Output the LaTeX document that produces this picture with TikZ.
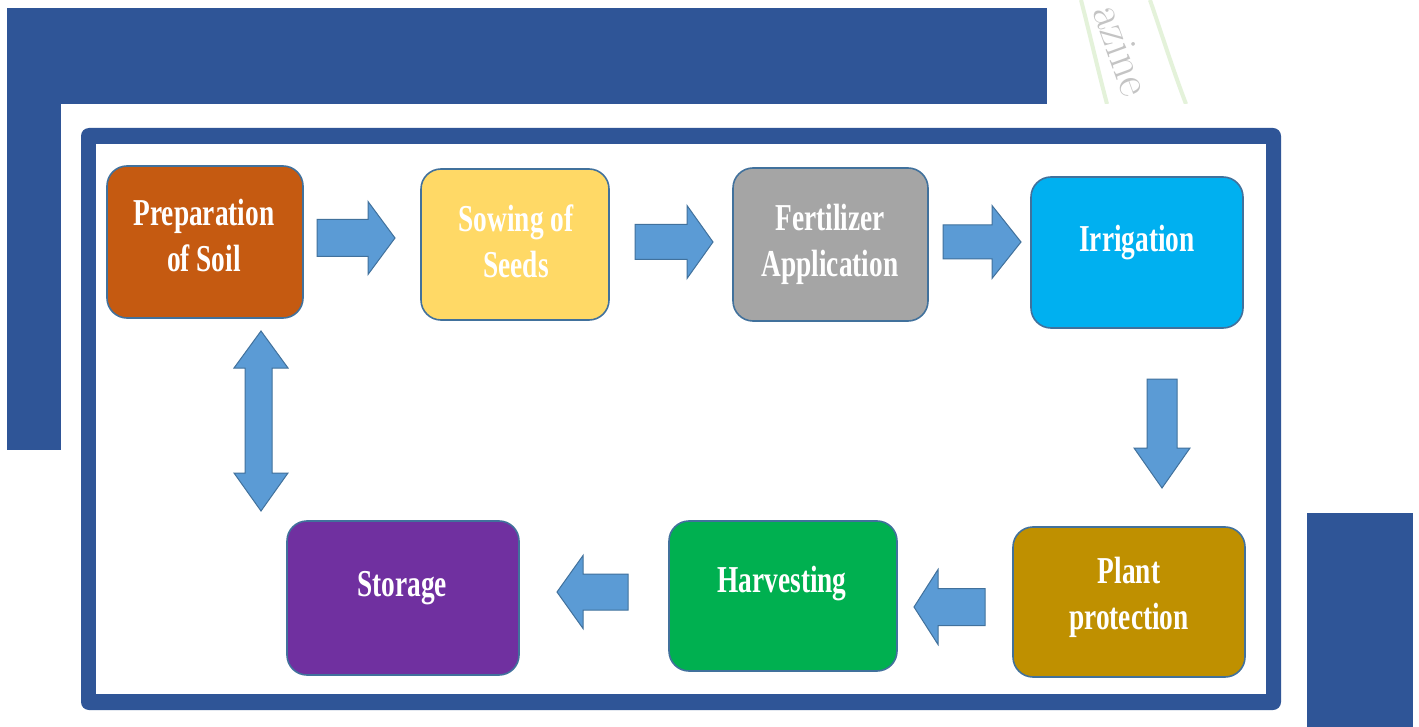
\documentclass[tikz,border=0pt]{standalone}
\usepackage{fontspec}
\newfontfamily\labelfont{Liberation Serif}[FakeStretch=0.72]

\definecolor{frameblue}{HTML}{2F5597}
\definecolor{boxedge}{HTML}{41719C}
\definecolor{arrowfill}{HTML}{5B9BD5}
\definecolor{arrowedge}{HTML}{41719C}
\definecolor{prepfill}{HTML}{C55A11}
\definecolor{sowfill}{HTML}{FFD966}
\definecolor{fertfill}{HTML}{A5A5A5}
\definecolor{irrfill}{HTML}{00B0F0}
\definecolor{plantfill}{HTML}{BF9000}
\definecolor{harvfill}{HTML}{00B050}
\definecolor{storfill}{HTML}{7030A0}
\definecolor{sealgreen}{HTML}{E4F2DA}
\definecolor{sealgray}{HTML}{C4C4C4}

% block arrow: shaft end, head base, tip, centre line, shaft half width, head half width
\newcommand\blockhoriz[6]{%
  \draw[blockarrow] (#1,{#4-#5}) -- (#2,{#4-#5}) -- (#2,{#4-#6}) -- (#3,#4)
    -- (#2,{#4+#6}) -- (#2,{#4+#5}) -- (#1,{#4+#5}) -- cycle;}
\newcommand\blockvert[6]{%
  \draw[blockarrow] ({#4-#5},#1) -- ({#4-#5},#2) -- ({#4-#6},#2) -- (#4,#3)
    -- ({#4+#6},#2) -- ({#4+#5},#2) -- ({#4+#5},#1) -- cycle;}

\begin{document}
\begin{tikzpicture}[x=1pt,y=-1pt,
  stage/.style={draw=boxedge, line width=1.6pt, rounded corners=20pt, inner sep=0pt},
  stagetext/.style={text=white, align=center, inner sep=0pt,
    font={\labelfont\bfseries\fontsize{38pt}{46pt}\selectfont}},
  blockarrow/.style={fill=arrowfill, draw=arrowedge, line width=1pt, line join=miter}]

\useasboundingbox (0,0) rectangle (1419,727);
\fill[white] (0,0) rectangle (1419,727);

% page watermark seal, seen above the figure
\begin{scope}
  \clip (1047,0) rectangle (1419,104);
  \draw[sealgreen, line width=4pt] (1081,0) .. controls (1090,35) and (1098,70) .. (1107,104);
  \draw[sealgreen, line width=4pt] (1150,0) .. controls (1162,35) and (1173,70) .. (1186,104);
  \node[rotate=-70, text=sealgray, inner sep=0pt, font=\fontsize{46pt}{46pt}\selectfont] (seal) at (1122,50) {azine};
\end{scope}

% background blue panels
\fill[frameblue] (7,8) rectangle (1047,104);
\fill[frameblue] (7,104) rectangle (61,450);
\fill[white] (61,104) rectangle (1300,127);
\fill[frameblue] (1307,513) rectangle (1413,727);

% framed panel
\fill[frameblue, rounded corners=8pt] (81,128) rectangle (1281,710);
\fill[white] (96,144) rectangle (1266,694);

% stages
\node[stage, fill=prepfill,  minimum width=196pt, minimum height=152pt] (prep)  at (205,242) {};
\node[stage, fill=sowfill,   minimum width=188pt, minimum height=151pt] (sow)   at (515,244.5) {};
\node[stage, fill=fertfill,  minimum width=195pt, minimum height=153pt] (fert)  at (830.5,244.5) {};
\node[stage, fill=irrfill,   minimum width=212pt, minimum height=151pt] (irr)   at (1137,252.5) {};
\node[stage, fill=plantfill, minimum width=232pt, minimum height=150pt] (plant) at (1129,602) {};
\node[stage, fill=harvfill,  minimum width=228pt, minimum height=150pt] (harv)  at (783,596) {};
\node[stage, fill=storfill,  minimum width=232pt, minimum height=154pt] (stor)  at (403,598) {};

% stage labels
\node[stagetext] (prep-t)  at (204,236)  {Preparation\\of Soil};
\node[stagetext] (sow-t)   at (516,241)  {Sowing of\\Seeds};
\node[stagetext] (fert-t)  at (830,244)  {Fertilizer\\Application};
\node[stagetext] (irr-t)   at (1137,243) {Irrigation};
\node[stagetext] (plant-t) at (1129,597) {Plant\\protection};
\node[stagetext] (harv-t)  at (782,584)  {Harvesting};
\node[stagetext] (stor-t)  at (402,588)  {Storage};

% flow arrows
\blockhoriz{317}{368}{395}{238}{18.5}{36.5}
\blockhoriz{635}{687}{713}{242}{17.5}{36.5}
\blockhoriz{943}{992}{1021}{242}{17}{36.5}
\blockvert{379}{448}{488}{1162}{15}{28}
\blockhoriz{985}{938}{914}{607}{18.5}{37.5}
\blockhoriz{628}{583}{557}{592}{18}{36.5}
% two-way arrow between storage and soil preparation
\draw[blockarrow] (245,368) -- (234,368) -- (261,331) -- (288,368) -- (272,368)
  -- (272,473) -- (288,473) -- (261,511) -- (234,473) -- (245,473) -- cycle;

\end{tikzpicture}
\end{document}
